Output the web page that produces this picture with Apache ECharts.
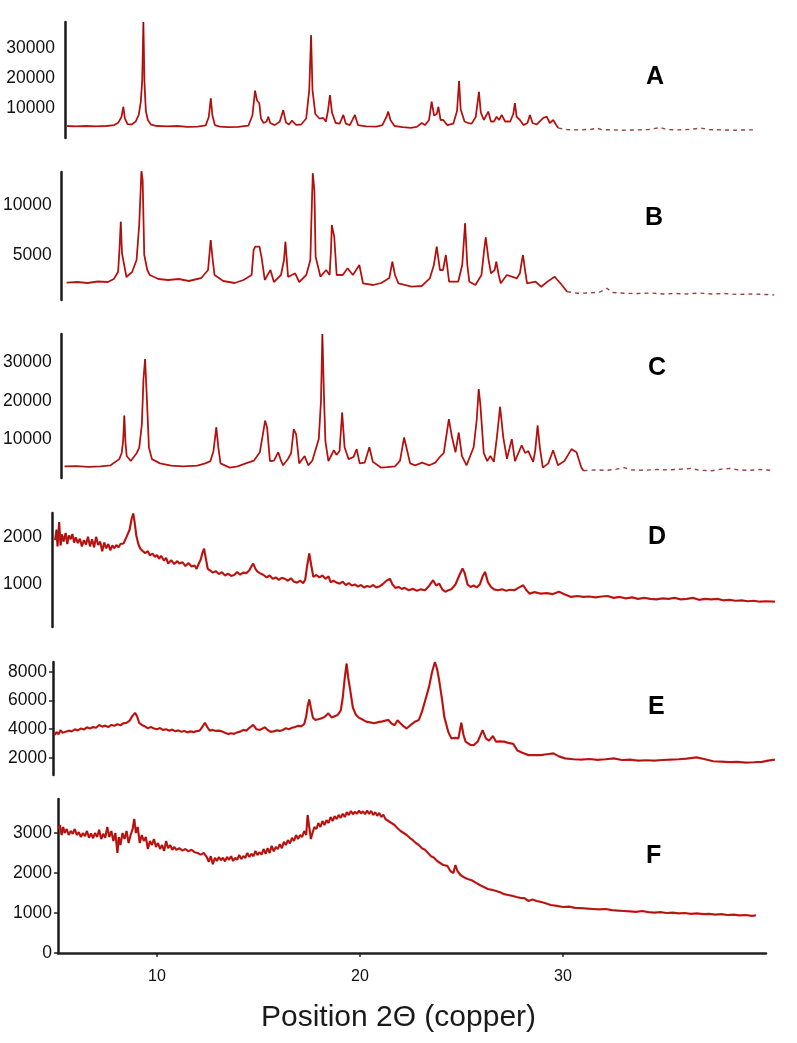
<!DOCTYPE html>
<html>
<head>
<meta charset="utf-8">
<script src="https://cdn.jsdelivr.net/npm/echarts@6/dist/echarts.min.js"></script>
<style>
html,body{margin:0;padding:0;background:#fff;}
#chart{width:797px;height:1043px;}
</style>
</head>
<body>
<div id="chart"></div>
<script>
// ---------------- DATA (2θ, counts) ----------------
const panelNames = ['A','B','C','D','E','F'];
const xAxisTitle = 'Position 2Θ (copper)';
const xTickLabels = [10, 20, 30];

const yTicksA = [10000, 20000, 30000];
const yTicksB = [5000, 10000];
const yTicksC = [10000, 20000, 30000];
const yTicksD = [1000, 2000];
const yTicksE = [2000, 4000, 6000, 8000];
const yTicksF = [0, 1000, 2000, 3000];

const seriesA = [[5.57,4000],[6.0,3900],[6.5,4000],[7.0,3900],[7.5,4000],[7.9,4300],[8.1,5200],[8.25,7000],[8.34,10400],[8.42,6500],[8.55,4600],[8.75,4500],[8.95,5500],[9.1,7700],[9.2,12000],[9.27,19000],[9.33,38700],[9.38,19000],[9.45,9000],[9.55,6000],[9.7,4500],[10.0,4000],[10.5,3900],[11.0,4000],[11.5,3700],[12.0,3800],[12.4,4200],[12.55,7000],[12.65,13200],[12.73,7500],[12.85,4300],[13.1,3800],[13.5,3600],[14.0,3700],[14.5,4100],[14.7,7500],[14.83,15800],[14.93,12500],[15.04,11600],[15.12,6500],[15.25,5000],[15.4,5500],[15.48,7100],[15.58,5000],[15.8,4300],[16.05,5500],[16.22,9300],[16.35,5200],[16.5,4500],[16.65,5800],[16.71,6000],[16.85,4400],[17.1,4500],[17.35,6500],[17.5,16000],[17.59,34300],[17.66,16000],[17.8,8000],[18.0,6500],[18.19,6700],[18.32,5500],[18.42,9000],[18.52,14300],[18.62,8500],[18.8,5000],[19.0,4800],[19.18,7700],[19.3,4800],[19.5,4300],[19.75,7700],[19.9,4300],[20.3,3900],[20.8,3800],[21.1,4300],[21.3,7000],[21.39,8800],[21.5,6000],[21.7,4000],[22.1,3600],[22.5,3400],[22.8,3700],[23.04,5000],[23.2,4300],[23.4,6000],[23.53,12100],[23.65,7500],[23.78,8000],[23.86,10400],[23.97,6000],[24.1,6000],[24.3,4300],[24.6,4800],[24.78,9000],[24.88,19000],[24.96,9500],[25.15,5500],[25.33,5000],[25.5,4800],[25.7,7000],[25.86,15400],[25.95,8500],[26.1,6000],[26.32,8800],[26.45,5500],[26.6,5500],[26.73,7100],[26.85,6000],[26.98,7700],[27.15,5500],[27.4,5500],[27.55,8000],[27.63,11600],[27.72,7000],[27.88,6000],[28.05,4300],[28.25,5000],[28.37,7700],[28.5,5000],[28.7,4500],[29.03,6700],[29.2,7100],[29.35,5000],[29.52,6000],[29.65,4500],[29.77,3300]];
const tailA = [[29.77,3300],[30.2,2800],[30.8,2700],[31.4,2900],[31.66,3300],[31.9,2800],[32.5,2700],[33.0,2600],[33.6,2700],[34.2,2800],[34.8,3500],[35.1,2800],[35.7,2700],[36.3,2900],[36.8,3300],[37.2,2800],[37.8,2700],[38.5,2600],[39.0,2700],[39.46,2700]];

const seriesB = [[5.47,2230],[6.0,2300],[6.5,2200],[7.0,2350],[7.5,2300],[7.8,2600],[8.01,3330],[8.08,5700],[8.14,8330],[8.2,5170],[8.28,5000],[8.42,2800],[8.7,3300],[8.92,4500],[9.05,8000],[9.16,13400],[9.22,12500],[9.3,5000],[9.45,3500],[9.57,3000],[10.0,2600],[10.48,2500],[11.0,2600],[11.5,2400],[12.12,2700],[12.45,3500],[12.58,6500],[12.68,4500],[12.77,3000],[13.2,2400],[13.76,2200],[14.2,2500],[14.6,3000],[14.7,5500],[14.78,5830],[14.99,5830],[15.1,4670],[15.25,2500],[15.53,3500],[15.7,2300],[16.05,3000],[16.2,4500],[16.27,6330],[16.4,2800],[16.75,3170],[16.95,2300],[17.3,3000],[17.5,4500],[17.56,9000],[17.62,13170],[17.7,11500],[17.76,4830],[18.0,2830],[18.28,3500],[18.45,3000],[18.52,5500],[18.56,8000],[18.68,6830],[18.8,3000],[19.1,3000],[19.34,3670],[19.6,3000],[19.92,4000],[20.1,2170],[20.6,2000],[21.0,2200],[21.4,2700],[21.55,4330],[21.68,3000],[21.85,2170],[22.5,1830],[23.0,1900],[23.4,2670],[23.6,4000],[23.74,5830],[23.9,3500],[24.05,3500],[24.19,5000],[24.35,2330],[24.8,2330],[25.0,4000],[25.14,8170],[25.25,4000],[25.35,2330],[25.65,2000],[25.95,3000],[26.08,5500],[26.16,6770],[26.3,4500],[26.42,3170],[26.6,3500],[26.68,4330],[26.8,3000],[26.9,2170],[27.2,3000],[27.45,2830],[27.7,2670],[27.85,3200],[27.95,4500],[28.0,5000],[28.1,3500],[28.2,2170],[28.62,2330],[28.9,1830],[29.2,2330],[29.4,2600],[29.56,2830],[29.7,2500],[29.85,2170],[30.18,1330]];
const tailB = [[30.18,1330],[30.7,1170],[31.3,1200],[31.8,1300],[32.15,1670],[32.4,1250],[33.0,1170],[33.7,1150],[34.3,1200],[34.9,1100],[35.5,1150],[36.1,1100],[36.7,1200],[37.3,1100],[37.9,1150],[38.6,1050],[39.3,1100],[40.0,1050],[40.4,1000]];

const seriesC = [[5.22,3000],[5.8,3100],[6.4,2900],[7.0,3000],[7.5,3300],[7.93,4900],[8.05,6500],[8.12,9500],[8.18,16200],[8.24,9000],[8.3,5700],[8.5,4400],[8.8,6500],[8.92,7900],[9.05,14000],[9.13,25700],[9.21,30900],[9.29,21600],[9.4,7900],[9.55,4900],[9.95,3800],[10.5,3200],[11.1,3000],[11.8,3200],[12.2,3800],[12.45,4400],[12.6,7000],[12.74,13150],[12.84,8000],[12.95,3800],[13.4,2700],[13.8,3000],[14.2,3800],[14.6,4500],[14.9,6700],[15.07,12000],[15.16,14900],[15.26,13100],[15.4,4400],[15.6,4500],[15.81,6700],[15.95,4500],[16.05,3300],[16.3,5000],[16.45,6500],[16.58,12700],[16.7,11300],[16.85,3800],[17.12,5700],[17.3,3300],[17.5,4500],[17.7,8000],[17.82,10100],[17.93,20000],[18.0,37400],[18.08,21000],[18.15,9500],[18.3,4400],[18.57,7200],[18.7,6000],[18.85,7000],[18.98,17000],[19.1,8000],[19.3,4900],[19.55,5500],[19.7,7500],[19.85,3800],[20.1,4000],[20.33,8000],[20.5,4200],[20.9,2700],[21.2,2800],[21.6,3000],[21.85,4500],[22.05,10500],[22.2,7200],[22.35,3800],[22.6,3300],[22.95,4000],[23.3,3300],[23.6,4000],[23.78,5200],[24.02,6500],[24.27,15300],[24.43,10500],[24.6,6700],[24.76,11800],[24.92,5700],[25.15,3300],[25.5,8000],[25.65,15000],[25.75,23100],[25.83,19200],[26.0,6500],[26.17,4400],[26.33,5700],[26.5,4200],[26.65,10500],[26.81,18500],[26.97,10500],[27.15,5000],[27.39,10100],[27.55,4400],[27.88,8500],[28.05,6500],[28.21,7000],[28.45,4200],[28.55,7000],[28.67,13600],[28.78,8000],[28.93,2700],[29.2,3800],[29.44,7200],[29.68,3300],[30.0,4400],[30.35,7500],[30.6,6700],[30.84,2700],[30.95,1900]];
const tailC = [[30.95,1900],[31.5,2100],[32.1,2000],[32.6,2300],[32.97,2700],[33.3,2100],[33.9,2000],[34.6,2200],[35.2,2100],[35.8,2300],[36.26,2500],[36.7,2000],[37.3,1900],[37.8,2300],[38.2,2500],[38.6,2100],[39.2,2000],[39.7,2200],[40.2,2000]];

const seriesD = [[4.98,1930],[5.05,2150],[5.1,1800],[5.18,2310],[5.25,1820],[5.32,2050],[5.4,1900],[5.5,2080],[5.58,1850],[5.66,2030],[5.75,1950],[5.83,2060],[5.92,1880],[6.0,1990],[6.1,1870],[6.2,1960],[6.3,1800],[6.4,1930],[6.5,1840],[6.6,2000],[6.7,1800],[6.8,1950],[6.9,1780],[7.0,2000],[7.1,1830],[7.2,1900],[7.3,1700],[7.4,1880],[7.5,1760],[7.6,1850],[7.7,1720],[7.8,1820],[7.9,1760],[8.0,1830],[8.1,1780],[8.2,1850],[8.35,1860],[8.5,2000],[8.65,2150],[8.75,2380],[8.83,2490],[8.9,2300],[8.98,2030],[9.08,1850],[9.18,1750],[9.3,1700],[9.42,1660],[9.55,1700],[9.65,1610],[9.78,1650],[9.9,1580],[10.0,1620],[10.1,1540],[10.2,1600],[10.35,1500],[10.45,1560],[10.55,1440],[10.7,1510],[10.85,1430],[11.0,1490],[11.1,1440],[11.25,1470],[11.4,1390],[11.55,1450],[11.7,1380],[11.85,1400],[11.95,1330],[12.05,1430],[12.15,1520],[12.25,1680],[12.32,1750],[12.4,1560],[12.5,1330],[12.6,1300],[12.75,1250],[12.9,1280],[13.05,1220],[13.2,1260],[13.35,1190],[13.5,1230],[13.65,1180],[13.8,1200],[13.95,1260],[14.1,1210],[14.25,1250],[14.4,1240],[14.55,1300],[14.65,1380],[14.74,1440],[14.85,1330],[14.95,1270],[15.1,1230],[15.25,1200],[15.4,1150],[15.55,1190],[15.7,1120],[15.85,1150],[16.0,1100],[16.15,1140],[16.3,1120],[16.45,1080],[16.6,1130],[16.75,1060],[16.9,1040],[17.05,1080],[17.2,1030],[17.3,1100],[17.4,1400],[17.5,1650],[17.6,1400],[17.7,1160],[17.85,1200],[18.0,1150],[18.15,1190],[18.3,1120],[18.45,1170],[18.55,1050],[18.7,1080],[18.85,1040],[19.0,1020],[19.15,1060],[19.3,990],[19.45,1030],[19.6,980],[19.75,1000],[19.9,960],[20.05,990],[20.2,940],[20.35,970],[20.5,950],[20.65,990],[20.8,940],[20.95,960],[21.1,1000],[21.3,1080],[21.48,1120],[21.6,1000],[21.75,930],[21.9,950],[22.05,910],[22.2,930],[22.4,880],[22.6,910],[22.8,870],[23.0,900],[23.2,880],[23.4,970],[23.6,1090],[23.75,980],[23.9,1020],[24.05,900],[24.2,850],[24.35,880],[24.5,900],[24.7,1000],[24.9,1200],[25.05,1335],[25.15,1250],[25.3,1000],[25.45,950],[25.6,980],[25.75,940],[25.9,1000],[26.05,1180],[26.16,1265],[26.3,1050],[26.45,950],[26.6,900],[26.8,880],[27.0,900],[27.2,870],[27.4,890],[27.6,880],[27.8,930],[28.04,985],[28.2,880],[28.35,810],[28.6,840],[28.9,810],[29.2,820],[29.5,800],[29.8,850],[30.1,790],[30.4,740],[30.7,760],[31.0,740],[31.3,750],[31.6,730],[31.9,750],[32.2,760],[32.5,720],[32.8,740],[33.1,710],[33.4,730],[33.7,700],[34.0,720],[34.3,700],[34.6,690],[34.9,710],[35.2,700],[35.5,720],[35.8,690],[36.1,700],[36.4,720],[36.7,680],[37.0,700],[37.3,690],[37.6,700],[37.9,670],[38.2,680],[38.5,660],[38.8,670],[39.1,650],[39.4,660],[39.7,640],[40.0,650],[40.44,640]];

const seriesE = [[4.97,3590],[5.05,3800],[5.15,3650],[5.25,3940],[5.35,3750],[5.5,3820],[5.65,3900],[5.8,3850],[5.95,3990],[6.1,3920],[6.25,4050],[6.4,3980],[6.55,4130],[6.7,4050],[6.85,4150],[7.0,4100],[7.15,4300],[7.3,4180],[7.45,4250],[7.6,4150],[7.75,4300],[7.9,4240],[8.05,4350],[8.2,4280],[8.35,4420],[8.5,4450],[8.65,4600],[8.8,4950],[8.92,5140],[9.02,4900],[9.12,4450],[9.25,4300],[9.4,4200],[9.55,4070],[9.7,4150],[9.85,4050],[10.0,4000],[10.15,4080],[10.3,3950],[10.45,4000],[10.6,3900],[10.75,3970],[10.9,3860],[11.05,3920],[11.2,3820],[11.35,3880],[11.5,3780],[11.65,3850],[11.8,3800],[11.95,3870],[12.1,3900],[12.25,4200],[12.36,4450],[12.48,4150],[12.6,3900],[12.75,3950],[12.9,3880],[13.05,3900],[13.2,3850],[13.35,3750],[13.5,3660],[13.65,3720],[13.8,3680],[13.95,3780],[14.1,3830],[14.25,3950],[14.4,3900],[14.55,4100],[14.74,4300],[14.9,4000],[15.05,3950],[15.2,4050],[15.32,4130],[15.45,3950],[15.6,3820],[15.75,3850],[15.9,3920],[16.05,3880],[16.2,3950],[16.35,4070],[16.5,4000],[16.65,4100],[16.8,4150],[16.95,4240],[17.1,4200],[17.25,4350],[17.35,4900],[17.42,5600],[17.5,6080],[17.58,5500],[17.68,4800],[17.8,4650],[17.95,4700],[18.1,4760],[18.25,4850],[18.44,5110],[18.6,4830],[18.75,4900],[18.9,5000],[19.05,5300],[19.15,6200],[19.25,7600],[19.34,8590],[19.42,7600],[19.52,6720],[19.65,5500],[19.8,5000],[19.95,4800],[20.1,4700],[20.3,4530],[20.5,4480],[20.7,4420],[20.9,4500],[21.1,4550],[21.25,4600],[21.4,4650],[21.55,4400],[21.7,4280],[21.85,4630],[22.0,4400],[22.15,4200],[22.3,4050],[22.5,4300],[22.7,4520],[22.9,4650],[23.05,5210],[23.25,6200],[23.4,6960],[23.55,8000],[23.69,8700],[23.8,8200],[23.9,7420],[24.05,6000],[24.15,4880],[24.35,3800],[24.5,3360],[24.7,3400],[24.85,3360],[24.99,4450],[25.1,3600],[25.2,3130],[25.45,2900],[25.6,2890],[25.8,3130],[26.04,3940],[26.2,3360],[26.35,3200],[26.55,3520],[26.7,3130],[26.9,3150],[27.1,3130],[27.3,3050],[27.55,2980],[27.75,2520],[28.0,2350],[28.3,2190],[28.6,2200],[28.9,2190],[29.2,2250],[29.53,2310],[29.8,2100],[30.1,1960],[30.5,1900],[30.9,1880],[31.3,1920],[31.7,1860],[32.1,1900],[32.5,1960],[32.9,1850],[33.3,1870],[33.7,1800],[34.1,1830],[34.5,1800],[34.9,1850],[35.3,1880],[35.7,1900],[36.1,1950],[36.58,2030],[37.0,1900],[37.4,1760],[37.8,1730],[38.2,1700],[38.6,1720],[39.0,1670],[39.4,1690],[39.8,1720],[40.1,1800],[40.44,1880]];

const seriesF = [[5.15,3100],[5.22,3200],[5.3,2950],[5.38,3150],[5.45,3000],[5.55,3100],[5.65,2950],[5.75,3050],[5.85,2980],[5.95,3100],[6.05,2950],[6.15,3020],[6.25,2900],[6.35,3000],[6.45,2920],[6.55,3050],[6.65,2880],[6.75,2990],[6.85,2870],[6.95,3000],[7.05,2900],[7.15,3080],[7.25,2850],[7.35,2980],[7.45,2880],[7.55,3150],[7.65,2900],[7.75,3050],[7.85,2800],[7.95,3000],[8.05,2500],[8.12,2900],[8.2,2700],[8.3,3000],[8.4,2850],[8.5,3050],[8.6,2750],[8.7,2950],[8.8,3100],[8.88,3350],[8.96,3000],[9.05,3150],[9.15,2750],[9.25,2950],[9.35,2800],[9.45,2900],[9.55,2600],[9.65,2800],[9.75,2700],[9.85,2850],[9.95,2650],[10.05,2750],[10.15,2600],[10.25,2700],[10.35,2550],[10.45,2800],[10.55,2620],[10.65,2700],[10.75,2580],[10.85,2650],[10.95,2580],[11.1,2620],[11.25,2560],[11.4,2600],[11.55,2540],[11.7,2580],[11.85,2520],[12.0,2500],[12.15,2460],[12.3,2500],[12.45,2400],[12.55,2280],[12.65,2420],[12.75,2220],[12.85,2380],[12.95,2300],[13.05,2400],[13.15,2320],[13.25,2380],[13.35,2290],[13.45,2400],[13.55,2330],[13.65,2420],[13.75,2300],[13.85,2380],[13.95,2330],[14.05,2450],[14.15,2350],[14.25,2420],[14.35,2380],[14.45,2500],[14.55,2400],[14.65,2480],[14.75,2420],[14.85,2550],[14.95,2450],[15.05,2520],[15.15,2460],[15.25,2600],[15.35,2480],[15.45,2620],[15.55,2500],[15.65,2680],[15.75,2540],[15.85,2650],[15.95,2600],[16.05,2720],[16.15,2620],[16.25,2780],[16.35,2700],[16.45,2820],[16.55,2740],[16.65,2880],[16.75,2800],[16.85,2950],[16.95,2850],[17.05,2950],[17.15,2900],[17.25,3050],[17.35,2950],[17.42,3450],[17.5,3150],[17.58,2850],[17.66,3000],[17.75,3150],[17.85,3100],[17.95,3250],[18.05,3150],[18.15,3300],[18.25,3200],[18.35,3320],[18.45,3250],[18.55,3400],[18.65,3300],[18.75,3420],[18.85,3350],[18.95,3450],[19.05,3380],[19.15,3480],[19.25,3400],[19.35,3520],[19.45,3450],[19.55,3550],[19.65,3470],[19.75,3530],[19.85,3480],[19.95,3560],[20.05,3490],[20.15,3540],[20.25,3470],[20.35,3560],[20.45,3480],[20.55,3550],[20.65,3450],[20.75,3520],[20.85,3430],[20.95,3500],[21.05,3400],[21.15,3460],[21.25,3350],[21.4,3300],[21.55,3250],[21.7,3200],[21.85,3120],[22.0,3050],[22.15,3000],[22.3,2950],[22.45,2880],[22.6,2820],[22.75,2750],[22.9,2700],[23.05,2620],[23.2,2580],[23.35,2500],[23.5,2420],[23.65,2380],[23.8,2300],[23.95,2250],[24.1,2200],[24.3,2180],[24.45,2050],[24.6,2000],[24.7,2200],[24.8,2050],[24.95,1950],[25.1,1900],[25.3,1850],[25.5,1820],[25.7,1760],[25.9,1700],[26.1,1650],[26.3,1600],[26.5,1580],[26.7,1550],[26.9,1520],[27.1,1470],[27.3,1450],[27.5,1430],[27.7,1400],[27.9,1380],[28.1,1370],[28.3,1300],[28.5,1340],[28.7,1300],[28.9,1280],[29.1,1250],[29.4,1200],[29.7,1180],[30.0,1150],[30.3,1160],[30.6,1130],[30.9,1120],[31.2,1110],[31.5,1100],[31.8,1090],[32.1,1100],[32.4,1070],[32.7,1060],[33.0,1050],[33.3,1040],[33.6,1030],[33.9,1050],[34.2,1020],[34.5,1010],[34.8,1020],[35.1,1000],[35.4,1010],[35.7,990],[36.0,1000],[36.3,980],[36.6,990],[36.9,970],[37.2,980],[37.5,960],[37.8,970],[38.1,950],[38.4,960],[38.7,940],[39.0,950],[39.3,930],[39.5,940]];

// ---------------- LAYOUT ----------------
const PX_PER_DEG = 20.3;   // horizontal scale
const X5_PX = 55.5;        // pixel position of 2θ = 5
const FONT = "'Liberation Sans', Arial, Helvetica, sans-serif";
const RED = '#d81e1a';
const DARK = '#4a0707';

const panels = [
  {name:'A', main:seriesA, tail:tailA, ticks:yTicksA, left:65, top:22,  height:116, min:0,   max:38700, yTick:false, lw:1.8, label:[655,78]},
  {name:'B', main:seriesB, tail:tailB, ticks:yTicksB, left:60, top:172, height:128, min:500, max:13300, yTick:false, lw:1.8, label:[654,219]},
  {name:'C', main:seriesC, tail:tailC, ticks:yTicksC, left:57, top:334, height:144, min:0,   max:37400, yTick:false, lw:1.8, label:[657,369]},
  {name:'D', main:seriesD, tail:null,  ticks:yTicksD, left:52, top:513, height:114, min:110, max:2500,  yTick:false, lw:2.2, label:[657,538]},
  {name:'E', main:seriesE, tail:null,  ticks:yTicksE, left:53, top:662, height:113, min:800, max:8700,  yTick:true,  lw:2.2, label:[657,708]},
  {name:'F', main:seriesF, tail:null,  ticks:yTicksF, left:58, top:799, height:154, min:0,   max:3850,  yTick:true,  lw:2.2, label:[655,857]}
];

const plain = v => String(Math.round(v));

const grids = [], xAxes = [], yAxes = [], series = [], graphics = [];
panels.forEach((p, i) => {
  const isLast = i === panels.length - 1;
  const xmin = 5 + (p.left - X5_PX) / PX_PER_DEG;
  const xmax = isLast ? 40 : 41;
  grids.push({left:p.left, top:p.top, width:(xmax - xmin) * PX_PER_DEG, height:p.height});
  xAxes.push({
    type:'value', gridIndex:i, min:xmin, max:xmax, show:isLast,
    axisLine:{show:isLast, onZero:false, lineStyle:{color:'#222', width:2.5}},
    axisTick:{show:isLast, customValues:xTickLabels, length:4, lineStyle:{color:'#222', width:1.5}},
    axisLabel:{show:isLast, customValues:xTickLabels, formatter:plain, fontSize:16, color:'#111', fontFamily:FONT, margin:16},
    splitLine:{show:false}
  });
  yAxes.push({
    type:'value', gridIndex:i, min:p.min, max:p.max,
    axisLine:{show:true, onZero:false, lineStyle:{color:'#1a1a1a', width:2.5}},
    axisTick:{show:p.yTick, customValues:p.ticks, length:4, lineStyle:{color:'#222', width:1.5}},
    axisLabel:{customValues:p.ticks, formatter:plain, fontSize:17.5, color:'#111', fontFamily:FONT, margin:p.yTick ? 6 : 10},
    splitLine:{show:false}
  });
  series.push({type:'line', xAxisIndex:i, yAxisIndex:i, data:p.main, symbol:'none', smooth:false,
               lineStyle:{color:RED, width:p.lw}, z:2, silent:true});
  series.push({type:'line', xAxisIndex:i, yAxisIndex:i, data:p.main, symbol:'none', smooth:false,
               lineStyle:{color:DARK, width:0.7, opacity:0.6}, z:3, silent:true});
  if (p.tail) {
    series.push({type:'line', xAxisIndex:i, yAxisIndex:i, data:p.tail, symbol:'none',
                 lineStyle:{color:'#8a2020', width:1.4, type:[4,4], opacity:0.85}, z:2, silent:true});
  }
  graphics.push({type:'text', left:p.label[0] - 9, top:p.label[1] - 13,
    style:{text:p.name, font:'bold 25px ' + FONT, fill:'#000'}});
});

graphics.push({type:'text', left:'center', top:1003,
  style:{text:xAxisTitle, font:'30px ' + FONT, fill:'#1a1a1a'}});

const chart = echarts.init(document.getElementById('chart'), null, {renderer:'canvas'});
chart.setOption({
  animation:false,
  backgroundColor:'#fff',
  grid:grids, xAxis:xAxes, yAxis:yAxes, series:series, graphic:graphics
});
</script>
</body>
</html>
